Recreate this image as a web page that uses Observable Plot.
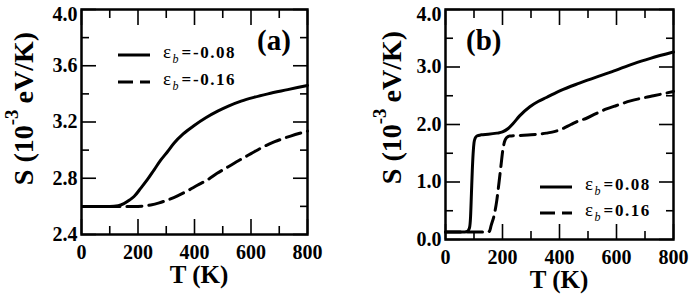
<!DOCTYPE html>
<html><head><meta charset="utf-8">
<script src="https://cdn.jsdelivr.net/npm/d3@7"></script>
<script src="https://cdn.jsdelivr.net/npm/@observablehq/plot@0.6"></script>
<style>
body{margin:0;background:#fff;}
#wrap{position:relative;width:692px;height:298px;overflow:hidden;}
#wrap svg{position:absolute;top:0;}
</style></head><body><div id="wrap"></div>
<script>
// ---- data ----
const xMajor = [0, 200, 400, 600, 800];
const xMinor = [100, 300, 500, 700];

// panel (a)
const aYMajor = [2.4, 2.8, 3.2, 3.6, 4.0];
const aYMinor = [2.6, 3.0, 3.4, 3.8];
const aSolidT = [5,50,100,130,150,170,186,210,233,257,281,305,328,360,399,440,482,520,565,610,660,730,800];
const aSolidS = [2.6,2.6,2.6,2.605,2.62,2.645,2.67,2.73,2.79,2.86,2.93,2.99,3.05,3.115,3.175,3.23,3.277,3.313,3.348,3.375,3.40,3.43,3.46];
const aDashT = [5,100,200,245,275,304,340,375,410,447,480,518,560,600,640,684,740,800];
const aDashS = [2.6,2.6,2.6,2.61,2.625,2.645,2.675,2.71,2.75,2.79,2.835,2.88,2.93,2.975,3.02,3.06,3.10,3.135];
const aLabels = ["-0.08", "-0.16"];

// panel (b)
const bYMajor = [0, 1, 2, 3, 4];
const bYMinor = [0.5, 1.5, 2.5, 3.5];
const bSolidT = [0,60,76,84,88,91,94,97,100,104,110,125,150,180,200,220,238,260,296,325,354,403,470,544,585,661,719,800];
const bSolidS = [0.13,0.13,0.14,0.2,0.4,0.8,1.2,1.5,1.68,1.76,1.80,1.82,1.83,1.85,1.87,1.93,2.02,2.15,2.31,2.40,2.47,2.59,2.72,2.85,2.92,3.06,3.15,3.26];
const bDashT = [0,100,150,155,160,172,180,188,195,201,207,214,225,260,300,354,385,412,440,470,491,528,565,600,649,700,730,800];
const bDashS = [0.13,0.13,0.13,0.15,0.24,0.45,0.68,1.0,1.3,1.55,1.7,1.77,1.80,1.81,1.82,1.85,1.88,1.93,2.0,2.07,2.10,2.19,2.27,2.33,2.41,2.47,2.50,2.575];
const bLabels = ["0.08", "0.16"];

const FONT = "'Liberation Serif','Times New Roman',serif";
const rows = (T, S) => T.map((t, i) => ({T: t, S: S[i]}));
const noText = () => "";

function panel(o) {
  const tk = (axis, ticks, opts) => axis(ticks, {label: null, tickFormat: noText, strokeWidth: 1.6, ...opts});
  const yLab = {label: null, tickSize: 0, tickPadding: 4, tickFormat: d3.format(".1f"), fontSize: 20};
  const svg = Plot.plot({
    width: 346, height: 298,
    marginLeft: o.mL, marginRight: o.mR, marginTop: o.mT, marginBottom: o.mB,
    style: {fontFamily: FONT, fontSize: "20px", fontWeight: "bold", background: "white", color: "black", overflow: "visible"},
    x: {domain: [0, 800]},
    y: {domain: o.yDomain},
    marks: [
      // tick labels (the top y label sits a little below its tick, as in the original)
      Plot.axisX(xMajor, {label: null, tickSize: 0, tickPadding: 10, tickFormat: d => d, fontSize: 20}),
      Plot.axisY(o.yMajor.slice(0, -1), yLab),
      Plot.axisY(o.yMajor.slice(-1), {...yLab, dy: 5}),
      // inward major ticks on four sides
      tk(Plot.axisX, xMajor, {anchor: "bottom", tickSize: 15, dy: -15}),
      tk(Plot.axisX, xMajor, {anchor: "top", tickSize: 15, dy: 15}),
      tk(Plot.axisY, o.yMajor, {anchor: "left", tickSize: 15, dx: 15}),
      tk(Plot.axisY, o.yMajor, {anchor: "right", tickSize: 15, dx: -15}),
      // inward minor ticks
      tk(Plot.axisX, xMinor, {anchor: "bottom", tickSize: 8, dy: -8}),
      tk(Plot.axisX, xMinor, {anchor: "top", tickSize: 8, dy: 8}),
      tk(Plot.axisY, o.yMinor, {anchor: "left", tickSize: 8, dx: 8}),
      tk(Plot.axisY, o.yMinor, {anchor: "right", tickSize: 8, dx: -8}),
      Plot.line(rows(o.solidT, o.solidS), {x: "T", y: "S", stroke: "black", strokeWidth: 3, curve: "monotone-x"}),
      Plot.line(rows(o.dashT, o.dashS), {x: "T", y: "S", stroke: "black", strokeWidth: 3, strokeDasharray: "15,7", curve: "monotone-x"}),
      Plot.frame({stroke: "black", strokeWidth: 2.5})
    ]
  });
  svg.style.left = o.left + "px";
  const s = d3.select(svg);
  const txt = (sel) => sel.attr("font-family", FONT).attr("fill", "black");
  // x title
  txt(s.append("text")).attr("x", o.xtX).attr("y", o.xtY).attr("text-anchor", "middle")
    .attr("font-size", 25).attr("font-weight", "bold").text("T (K)");
  // y title with superscript
  const yt = txt(s.append("text")).attr("transform", `translate(${o.ytX},${o.ytY}) rotate(-90)`)
    .attr("text-anchor", "middle").attr("font-size", 28).attr("font-weight", "bold");
  yt.append("tspan").text("S (10");
  yt.append("tspan").attr("font-size", 19).attr("dy", -15).text("-3");
  yt.append("tspan").attr("dy", 15).attr("dx", 6).text("eV/K)");
  // panel tag
  txt(s.append("text")).attr("x", o.tagX).attr("y", 50).attr("text-anchor", "start")
    .attr("font-size", 29).attr("font-weight", "bold").text(o.tag);
  // legend
  o.legY.forEach((ly, i) => {
    s.append("line").attr("x1", o.legX).attr("x2", o.legX + 32).attr("y1", ly).attr("y2", ly)
      .attr("stroke", "black").attr("stroke-width", 3)
      .attr("stroke-dasharray", i === 1 ? "15,7" : null);
    const base = ly + 3;
    txt(s.append("text")).attr("x", o.legX + 45).attr("y", base).attr("text-anchor", "start")
      .attr("font-size", 19).attr("font-weight", "normal").text("ε");
    txt(s.append("text")).attr("x", o.legX + 54.5).attr("y", base + 5).attr("text-anchor", "start")
      .attr("font-size", 12).attr("font-style", "italic").attr("font-weight", "normal").text("b");
    txt(s.append("text")).attr("x", o.legX + 63.5).attr("y", base).attr("text-anchor", "start")
      .attr("font-size", 17).attr("font-weight", "bold").text("=");
    txt(s.append("text")).attr("x", o.legX + 75).attr("y", base).attr("text-anchor", "start")
      .attr("font-size", 17).attr("font-weight", "bold").attr("letter-spacing", 1.5).text(o.labels[i]);
  });
  document.getElementById("wrap").appendChild(svg);
}

panel({left: 0, mL: 81, mR: 39, mT: 9, mB: 64, yDomain: [2.4, 4.0], yMajor: aYMajor, yMinor: aYMinor,
  solidT: aSolidT, solidS: aSolidS, dashT: aDashT, dashS: aDashS, labels: aLabels,
  xtX: 199, xtY: 283, ytX: 33, ytY: 108.5, tag: "(a)", tagX: 257, legX: 118, legY: [55, 82]});
panel({left: 346, mL: 99, mR: 19, mT: 9, mB: 59, yDomain: [0, 4], yMajor: bYMajor, yMinor: bYMinor,
  solidT: bSolidT, solidS: bSolidS, dashT: bDashT, dashS: bDashS, labels: bLabels,
  xtX: 213, xtY: 288, ytX: 55, ytY: 107.5, tag: "(b)", tagX: 120, legX: 194, legY: [187, 213]});
</script>
</body></html>
